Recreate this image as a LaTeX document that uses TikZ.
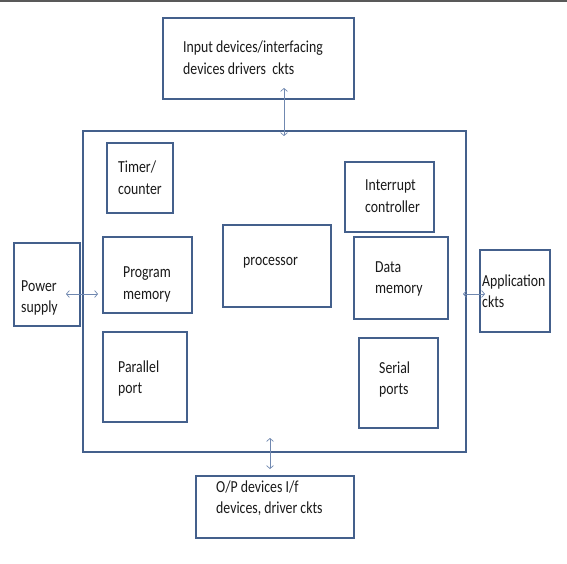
\documentclass[tikz,border=0pt]{standalone}
\usepackage{fontspec}
\setmainfont{Carlito}
\usetikzlibrary{arrows.meta}
\definecolor{boxc}{HTML}{44608C}
\definecolor{arrc}{HTML}{7088B0}
\definecolor{txtc}{HTML}{1A1A1A}
\newcommand{\tl}[1]{\scalebox{1}[1.22]{#1}}
\tikzset{
  blk/.style={draw=boxc, line width=1.4pt, rectangle, inner sep=0pt},
  lbl/.style={anchor=base west, inner sep=0pt, text=txtc, align=left,
    font=\fontsize{13.8}{21.5}\selectfont},
  link/.style={draw=arrc, line width=0.7pt,
    {Straight Barb[length=3pt,width=7pt]}-{Straight Barb[length=3pt,width=7pt]}},
}
\begin{document}
\begin{tikzpicture}[x=1pt,y=-1pt]
\useasboundingbox (0,0) rectangle (567,564);
\fill[white] (0,0) rectangle (567,564);
\draw[line width=2.5pt, draw=black!65] (0,1.2) -- (567,1.2);
% boxes
\node[blk, minimum width=191pt, minimum height=81pt] (input) at (258.5,58.5) {};
\node[blk, minimum width=383pt, minimum height=321pt] (main) at (274.5,291.5) {};
\node[blk, minimum width=66pt, minimum height=70pt] (timer) at (140,178) {};
\node[blk, minimum width=89pt, minimum height=76pt] (prog) at (147.5,275) {};
\node[blk, minimum width=84pt, minimum height=90pt] (par) at (145,377) {};
\node[blk, minimum width=108pt, minimum height=82pt] (proc) at (277,266) {};
\node[blk, minimum width=89pt, minimum height=70pt] (intr) at (389.5,197) {};
\node[blk, minimum width=94pt, minimum height=82pt] (data) at (401,278) {};
\node[blk, minimum width=79pt, minimum height=90pt] (ser) at (398.5,383) {};
\node[blk, minimum width=66pt, minimum height=83pt] (pow) at (47,284.5) {};
\node[blk, minimum width=70pt, minimum height=82pt] (app) at (515,291) {};
\node[blk, minimum width=158pt, minimum height=62pt] (opd) at (275,507) {};
% labels (anchored at the baseline of the last line)
\node[lbl] (tin) at (183,74.5) {\tl{Input devices/interfacing}\\\tl{devices drivers\ \ ckts}};
\node[lbl] (ttimer) at (118,194.5) {\tl{Timer/}\\\tl{counter}};
\node[lbl] (tprog) at (123,299) {\tl{Program}\\\tl{memory}};
\node[lbl] (tpar) at (118,393.5) {\tl{Parallel}\\\tl{port}};
\node[lbl] (tproc) at (243,265) {\tl{processor}};
\node[lbl] (tint) at (365,212) {\tl{Interrupt}\\\tl{controller}};
\node[lbl] (tdata) at (375,293.5) {\tl{Data}\\\tl{memory}};
\node[lbl] (tser) at (379,394.5) {\tl{Serial}\\\tl{ports}};
\node[lbl] (tpow) at (21,312.5) {\tl{Power}\\\tl{supply}};
\node[lbl] (tapp) at (482,307.5) {\tl{Application}\\\tl{ckts}};
\node[lbl] (top) at (216,513.5) {\tl{O/P devices I/f}\\\tl{devices, driver ckts}};
% connectors
\coordinate (a1) at (284,88);
\coordinate (a2) at (284,136);
\coordinate (b1) at (66,294);
\coordinate (b2) at (98,294);
\coordinate (c1) at (463,294);
\coordinate (c2) at (485,294);
\coordinate (d1) at (270,438);
\coordinate (d2) at (270,469);
\draw[link] (a1) -- (a2);
\draw[link] (b1) -- (b2);
\draw[link] (c1) -- (c2);
\draw[link] (d1) -- (d2);
\end{tikzpicture}
\end{document}
